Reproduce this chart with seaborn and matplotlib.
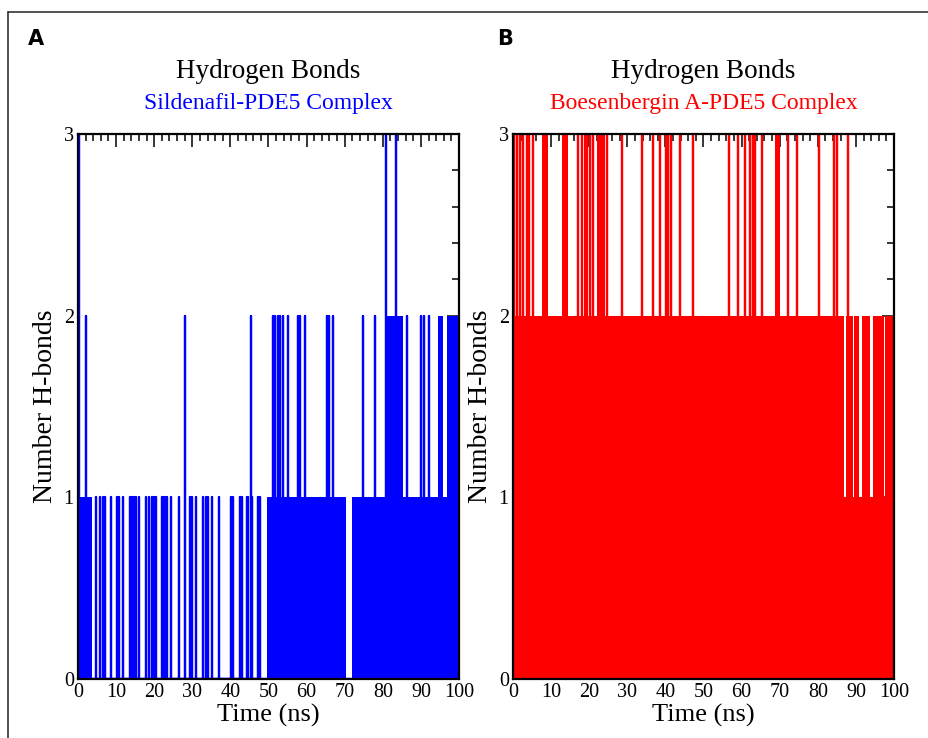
import pandas as pd
import seaborn as sns
import matplotlib.pyplot as plt
from matplotlib.lines import Line2D
from matplotlib.ticker import MultipleLocator

# ---- panel A : Sildenafil-PDE5 (time in ns) ----
sil_band1 = [(0.0, 3.6), (49.7, 70.4), (71.9, 86.35), (86.5, 100.0)]   # dense 0<->1 switching
sil_band2 = [(80.9, 85.4), (94.4, 95.7), (96.8, 100.0)]                 # dense 0<->2 switching
sil_spike1 = [4.7, 5.9, 6.6, 7.1, 8.7, 10.3, 10.8, 11.9, 13.6, 14.1, 14.7, 15.2,
              16.0, 17.8, 18.7, 19.3, 19.9, 20.5, 22.0, 22.4, 22.8, 23.3, 24.4,
              26.6, 29.4, 29.8, 31.1, 32.9, 33.5, 34.0, 35.3, 37.1, 40.1, 40.8,
              42.5, 43.1, 44.3, 44.7, 45.6, 47.3, 47.8]
sil_spike2 = [2.1, 28.1, 45.3, 51.1, 51.7, 52.4, 53.1, 53.8, 55.2, 57.7, 58.3,
              59.6, 65.3, 65.9, 67.0, 74.9, 78.0, 86.3, 90.0, 90.8, 92.0]
sil_spike3 = [0.15, 80.9, 83.5]

# ---- panel B : Boesenbergin A-PDE5 ----
boe_low = [(86.9, 87.3), (89.2, 89.5), (90.8, 91.5), (93.7, 94.4), (97.4, 97.7)]  # max 1 here
boe_band3 = [(7.5, 9.3), (12.8, 14.5), (18.6, 19.8), (22.0, 24.1), (68.8, 70.1)]
boe_spike3 = [0.35, 1.0, 1.8, 2.5, 3.6, 4.3, 5.2, 17.1, 18.0, 20.2, 21.1, 24.6,
              28.5, 33.8, 36.7, 38.6, 40.2, 40.8, 41.5, 43.8, 47.3, 56.8, 59.1,
              60.9, 62.2, 62.9, 63.5, 65.3, 69.4, 72.3, 74.6, 80.4, 84.3, 85.0, 87.8]

x_ticks = list(range(0, 101, 10))
y_ticks = [0, 1, 2, 3]

BLUE = "#0000ff"
RED = "#ff0000"

sns.set_style("white")
plt.rcParams["font.family"] = ["Liberation Serif", "DejaVu Serif"]
plt.rcParams["text.color"] = "black"
plt.rcParams["axes.labelcolor"] = "black"
plt.rcParams["xtick.color"] = "black"
plt.rcParams["ytick.color"] = "black"


def spikes(times, h):
    # trace that jumps from 0 up to h and straight back
    rows = []
    for t in times:
        rows += [(t, 0), (t, h), (t, 0)]
    return pd.DataFrame(rows, columns=["t", "n"])


def style_axes(ax):
    ax.set_xlim(0, 100)
    ax.set_ylim(0, 3)
    ax.set_xticks(x_ticks)
    ax.set_yticks(y_ticks)
    ax.xaxis.set_minor_locator(MultipleLocator(2))
    ax.yaxis.set_minor_locator(MultipleLocator(0.2))
    ax.tick_params(which="both", direction="in", top=True, right=True,
                   width=1.1, labelsize=14.5, pad=3)
    ax.tick_params(which="major", length=9)
    ax.tick_params(which="minor", length=5)
    for s in ax.spines.values():
        s.set_linewidth(1.6)
        s.set_color("black")
    ax.set_xlabel("Time (ns)", fontsize=19, labelpad=1)
    ax.set_ylabel("Number H-bonds", fontsize=20, labelpad=4)


fig = plt.figure(figsize=(9.29, 7.38), dpi=100)
axA = fig.add_axes([78 / 929, 1 - 679 / 738, 381 / 929, 545 / 738])
axB = fig.add_axes([513 / 929, 1 - 679 / 738, 381 / 929, 545 / 738])

# panel A
for a, b in sil_band1:
    axA.fill_between([a, b], 0, 1, color=BLUE, lw=0)
for a, b in sil_band2:
    axA.fill_between([a, b], 0, 2, color=BLUE, lw=0)
for vals, h in [(sil_spike1, 1), (sil_spike2, 2), (sil_spike3, 3)]:
    sns.lineplot(data=spikes(vals, h), x="t", y="n", sort=False, estimator=None,
                 color=BLUE, lw=1.6, ax=axA)

# panel B : 0-2 everywhere except the low windows
edges = [0.0]
for a, b in boe_low:
    edges += [a, b]
edges.append(100.0)
for i in range(0, len(edges), 2):
    axB.fill_between([edges[i], edges[i + 1]], 0, 2, color=RED, lw=0)
for a, b in boe_low:
    axB.fill_between([a, b], 0, 1, color=RED, lw=0)
for a, b in boe_band3:
    axB.fill_between([a, b], 0, 3, color=RED, lw=0)
sns.lineplot(data=spikes(boe_spike3, 3), x="t", y="n", sort=False, estimator=None,
             color=RED, lw=1.6, ax=axB)

style_axes(axA)
style_axes(axB)

# titles
for cx, sub, col in [(268.5 / 929, "Sildenafil-PDE5 Complex", BLUE),
                     (703.5 / 929, "Boesenbergin A-PDE5 Complex", RED)]:
    fig.text(cx, 1 - 72 / 738, "Hydrogen Bonds", ha="center", va="center", fontsize=19.5)
    fig.text(cx, 1 - 104 / 738, sub, ha="center", va="center", fontsize=17, color=col)

# panel letters
fig.text(28 / 929, 1 - 39 / 738, "A", ha="left", va="center", fontsize=15,
         fontweight="bold", family="DejaVu Sans")
fig.text(497 / 929, 1 - 39 / 738, "B", ha="left", va="center", fontsize=15,
         fontweight="bold", family="DejaVu Sans")

# outer frame
fig.add_artist(Line2D([8 / 929, 1], [1 - 12 / 738] * 2, transform=fig.transFigure,
                      color="#222222", lw=1.1))
fig.add_artist(Line2D([8 / 929] * 2, [0, 1 - 12 / 738], transform=fig.transFigure,
                      color="#222222", lw=1.1))

plt.savefig("out.png", dpi=100)
